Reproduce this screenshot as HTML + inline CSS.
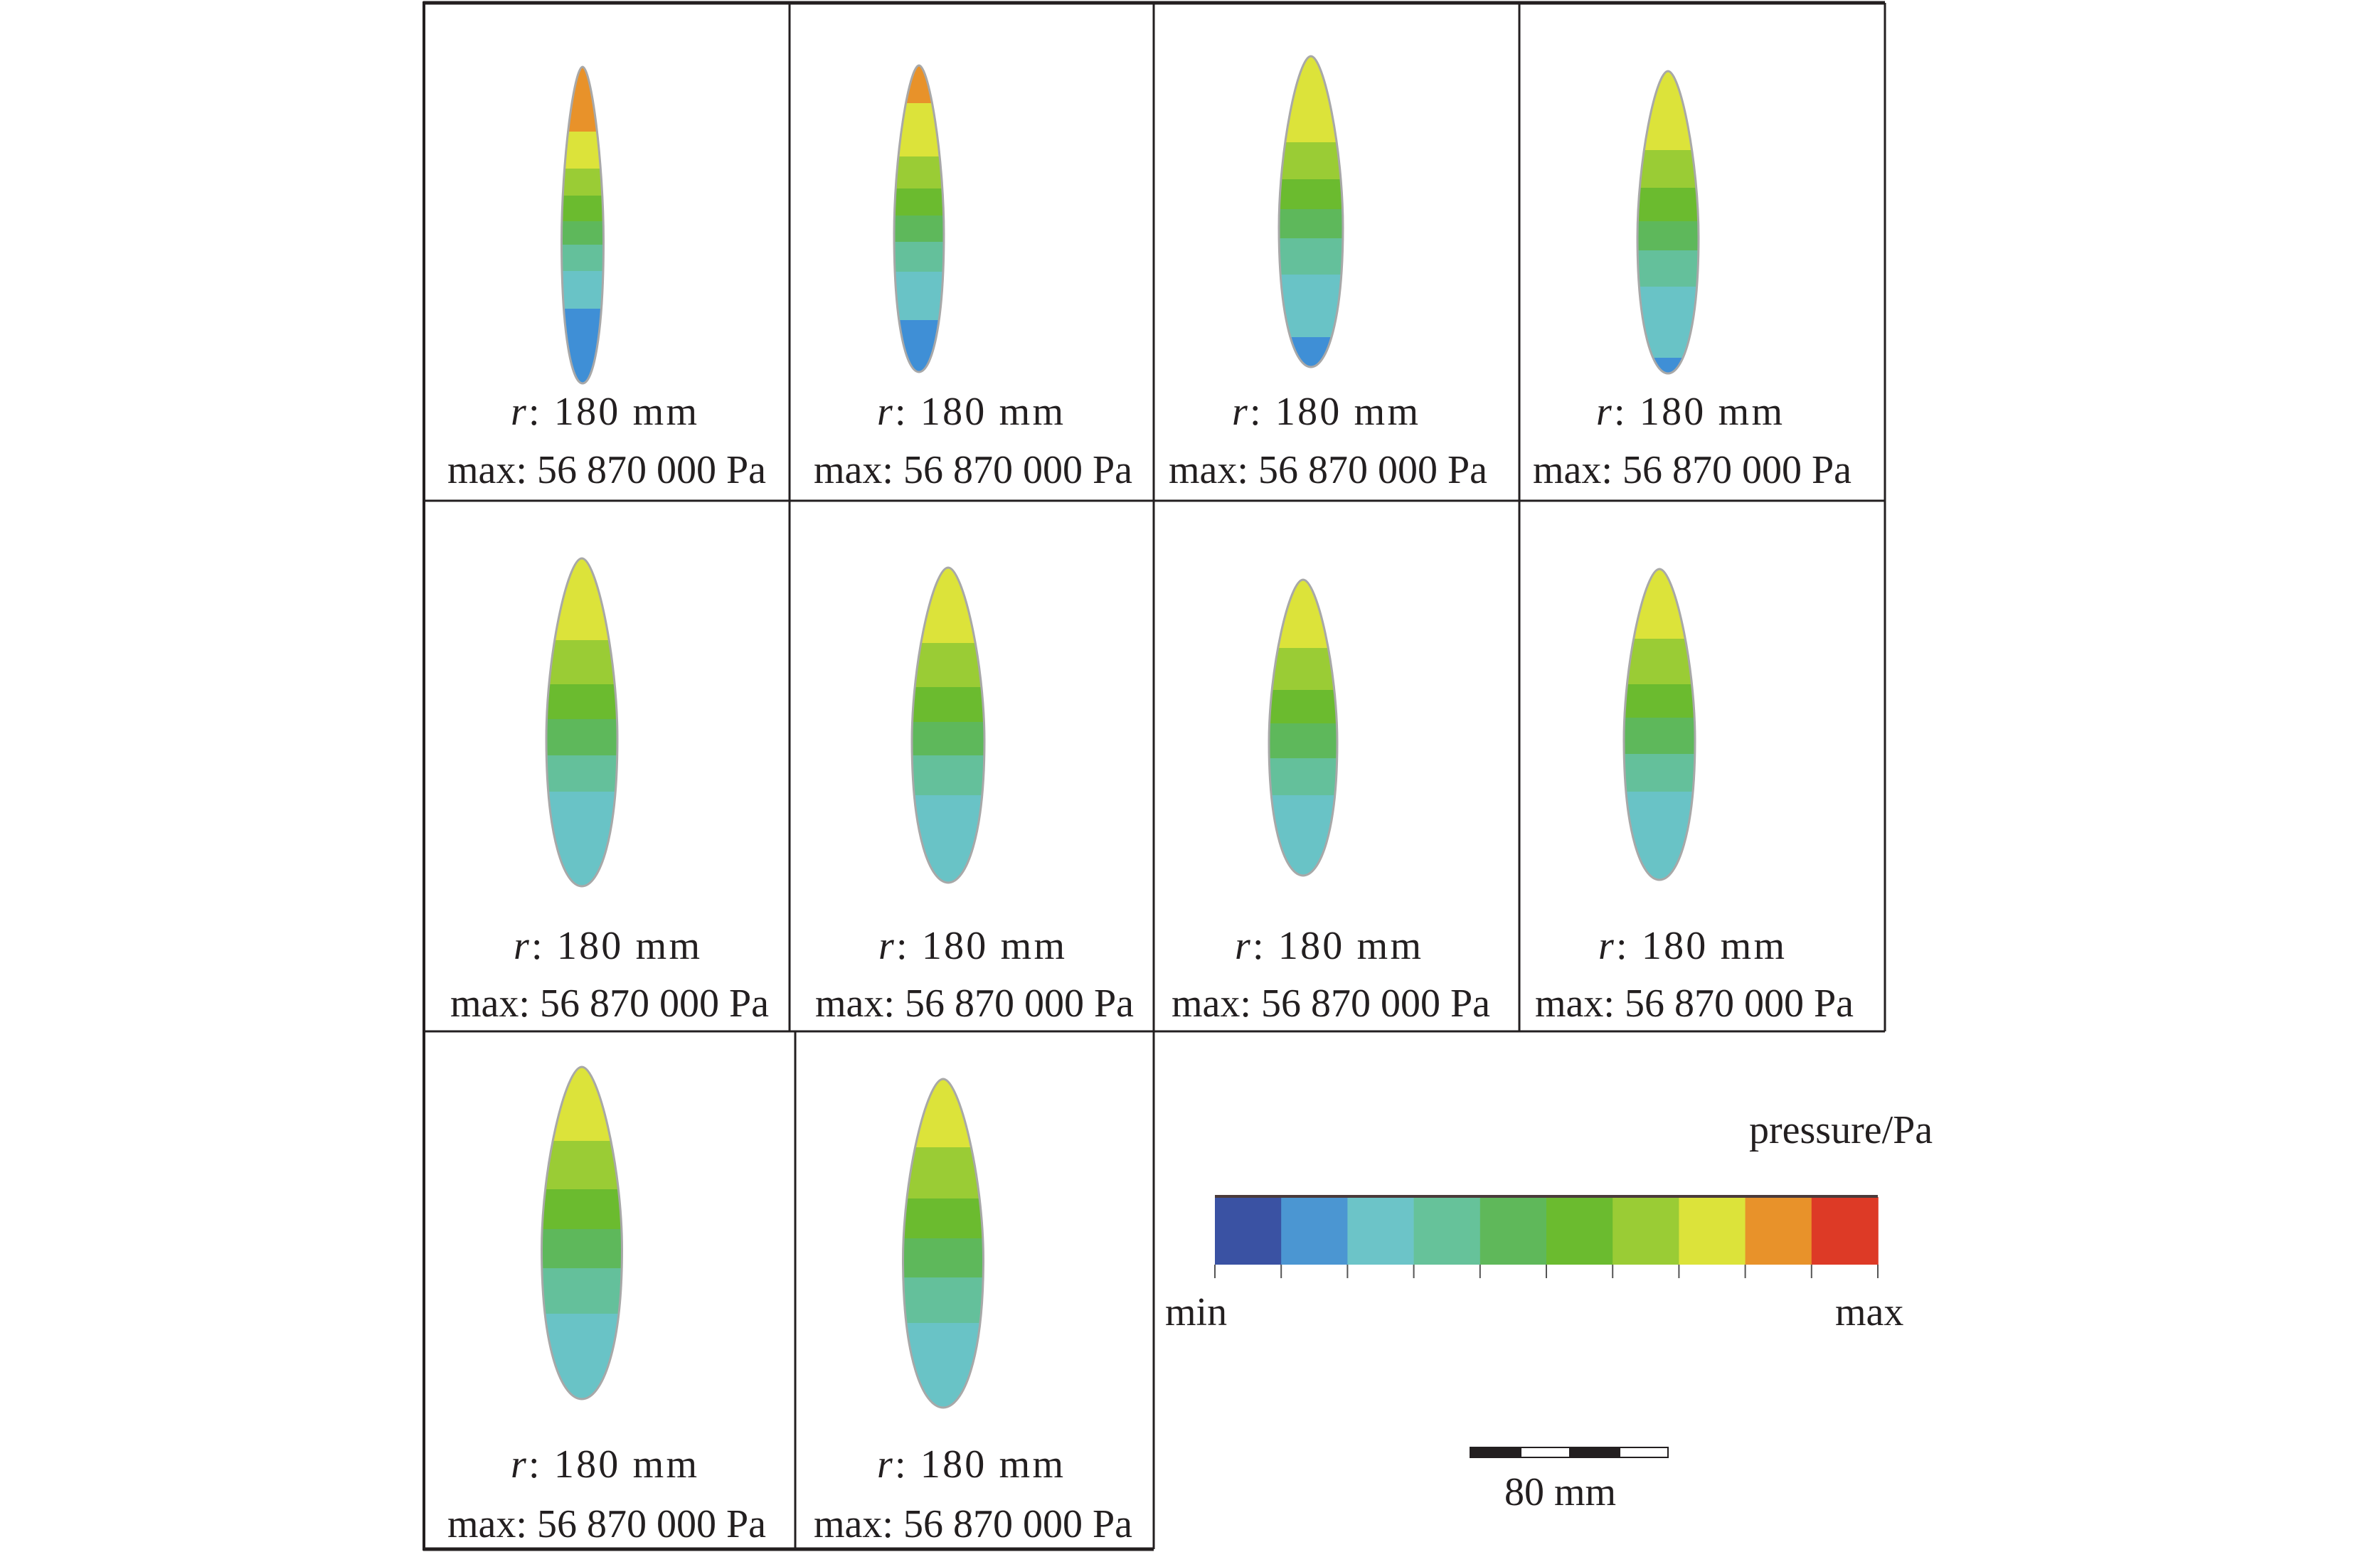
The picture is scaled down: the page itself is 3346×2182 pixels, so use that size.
<!DOCTYPE html>
<html><head><meta charset="utf-8"><style>
html,body{margin:0;padding:0;background:#fff;}
svg{display:block;}
text{font-family:"Liberation Serif",serif;font-size:56px;fill:#231f20;}
</style></head><body>
<svg id="s" width="3346" height="2182" viewBox="0 0 3346 2182" xmlns="http://www.w3.org/2000/svg">
<g stroke="#231f20" stroke-width="3" fill="none">
<line x1="595" y1="4" x2="2650" y2="4" stroke-width="5"/>
<line x1="595" y1="704" x2="2650" y2="704"/>
<line x1="595" y1="1450" x2="2650" y2="1450"/>
<line x1="595" y1="2178" x2="1622" y2="2178" stroke-width="5"/>
<line x1="596" y1="2" x2="596" y2="2180" stroke-width="4"/>
<line x1="1110" y1="4" x2="1110" y2="1450"/>
<line x1="1118" y1="1450" x2="1118" y2="2178"/>
<line x1="1622" y1="4" x2="1622" y2="2178"/>
<line x1="2136" y1="4" x2="2136" y2="1450"/>
<line x1="2650" y1="4" x2="2650" y2="1450"/>
</g>
<g id="shapes"></g>
<g text-anchor="middle">
<text x="849" y="597" textLength="262"><tspan font-style="italic">r</tspan>: 180 mm</text>
<text x="853" y="679">max: 56 870 000 Pa</text>
<text x="1364" y="597" textLength="262"><tspan font-style="italic">r</tspan>: 180 mm</text>
<text x="1368" y="679">max: 56 870 000 Pa</text>
<text x="1863" y="597" textLength="262"><tspan font-style="italic">r</tspan>: 180 mm</text>
<text x="1867" y="679">max: 56 870 000 Pa</text>
<text x="2375" y="597" textLength="262"><tspan font-style="italic">r</tspan>: 180 mm</text>
<text x="2379" y="679">max: 56 870 000 Pa</text>
<text x="853" y="1348" textLength="262"><tspan font-style="italic">r</tspan>: 180 mm</text>
<text x="857" y="1429">max: 56 870 000 Pa</text>
<text x="1366" y="1348" textLength="262"><tspan font-style="italic">r</tspan>: 180 mm</text>
<text x="1370" y="1429">max: 56 870 000 Pa</text>
<text x="1867" y="1348" textLength="262"><tspan font-style="italic">r</tspan>: 180 mm</text>
<text x="1871" y="1429">max: 56 870 000 Pa</text>
<text x="2378" y="1348" textLength="262"><tspan font-style="italic">r</tspan>: 180 mm</text>
<text x="2382" y="1429">max: 56 870 000 Pa</text>
<text x="849" y="2077" textLength="262"><tspan font-style="italic">r</tspan>: 180 mm</text>
<text x="853" y="2161">max: 56 870 000 Pa</text>
<text x="1364" y="2077" textLength="262"><tspan font-style="italic">r</tspan>: 180 mm</text>
<text x="1368" y="2161">max: 56 870 000 Pa</text>
</g>
<g id="cb"></g>
<rect x="1708" y="1680" width="932" height="4" fill="#4a3a3a"/>
<text x="2459" y="1607">pressure/Pa</text>
<text x="1638" y="1863">min</text>
<text x="2580" y="1863">max</text>
<rect x="2067" y="2035" width="278" height="14" fill="#fff" stroke="#231f20" stroke-width="2"/>
<rect x="2067" y="2035" width="72" height="14" fill="#231f20"/>
<rect x="2206" y="2035" width="72" height="14" fill="#231f20"/>
<text x="2115" y="2116">80 mm</text>
</svg>
<script>
const C={b:"#3f8fd6",c:"#69c3c6",t:"#64c09b",m:"#5eb85b",g:"#6bbb2f",l:"#9acc35",y:"#dce33a",o:"#e8922a"};
const S=[
[819,59,94,539,[["o",185],["y",237],["l",275],["g",311],["m",344],["t",381],["c",434],["b",539]]],
[1292,70,92,523,[["o",145],["y",220],["l",265],["g",303],["m",340],["t",382],["c",450],["b",523]]],
[1843,90,79,516,[["y",200],["l",252],["g",294],["m",335],["t",386],["c",474],["b",516]]],
[2345,86,100,525,[["y",211],["l",264],["g",311],["m",352],["t",403],["c",503],["b",525]]],
[818,100,785,1246,[["y",900],["l",962],["g",1011],["m",1062],["t",1113],["c",1246]]],
[1333,102,798,1241,[["y",904],["l",966],["g",1015],["m",1062],["t",1118],["c",1241]]],
[1832,96,815,1231,[["y",911],["l",970],["g",1017],["m",1066],["t",1118],["c",1231]]],
[2333,100,800,1237,[["y",898],["l",962],["g",1009],["m",1060],["t",1113],["c",1237]]],
[818,113,1500,1967,[["y",1604],["l",1672],["g",1728],["m",1783],["t",1847],["c",1967]]],
[1326,113,1517,1979,[["y",1613],["l",1685],["g",1741],["m",1796],["t",1860],["c",1979]]]];
let h="",defs="<defs>";
S.forEach((s,i)=>{const[cx,w,t,b,bands]=s;const H=b-t,r=w/2;
const p=`M${cx},${t} C${cx+0.4*r},${t} ${cx+r},${t+0.3*H} ${cx+r},${t+0.55*H} C${cx+r},${t+0.85*H} ${cx+0.5*r},${b} ${cx},${b} C${cx-0.5*r},${b} ${cx-r},${t+0.85*H} ${cx-r},${t+0.55*H} C${cx-r},${t+0.3*H} ${cx-0.4*r},${t} ${cx},${t}Z`;
defs+=`<clipPath id="k${i}"><path d="${p}"/></clipPath>`;
h+=`<g clip-path="url(#k${i})">`;let y=t;bands.forEach(([c,e])=>{h+=`<rect x="${cx-r-2}" y="${y}" width="${w+4}" height="${e-y+1}" fill="${C[c]}"/>`;y=e;});
h+=`</g><path d="${p}" fill="none" stroke="#a8a8a8" stroke-width="3"/>`;});
document.getElementById("shapes").innerHTML=defs+"</defs>"+h;
const cols=["#3a52a3","#4b96d2","#6cc4c8","#66c29a","#5fb85a","#6bbb2f","#9acc35","#dce33a","#e8922a","#dd3a26"];
let g="";cols.forEach((c,i)=>{g+=`<rect x="${1708+i*93.2}" y="1683" width="94" height="95" fill="${c}"/>`;});
for(let i=0;i<=10;i++){const x=1708+i*93.2;g+=`<line x1="${x}" y1="1778" x2="${x}" y2="1797" stroke="#555" stroke-width="2"/>`;}
document.getElementById("cb").innerHTML=g;
</script>
</body></html>
